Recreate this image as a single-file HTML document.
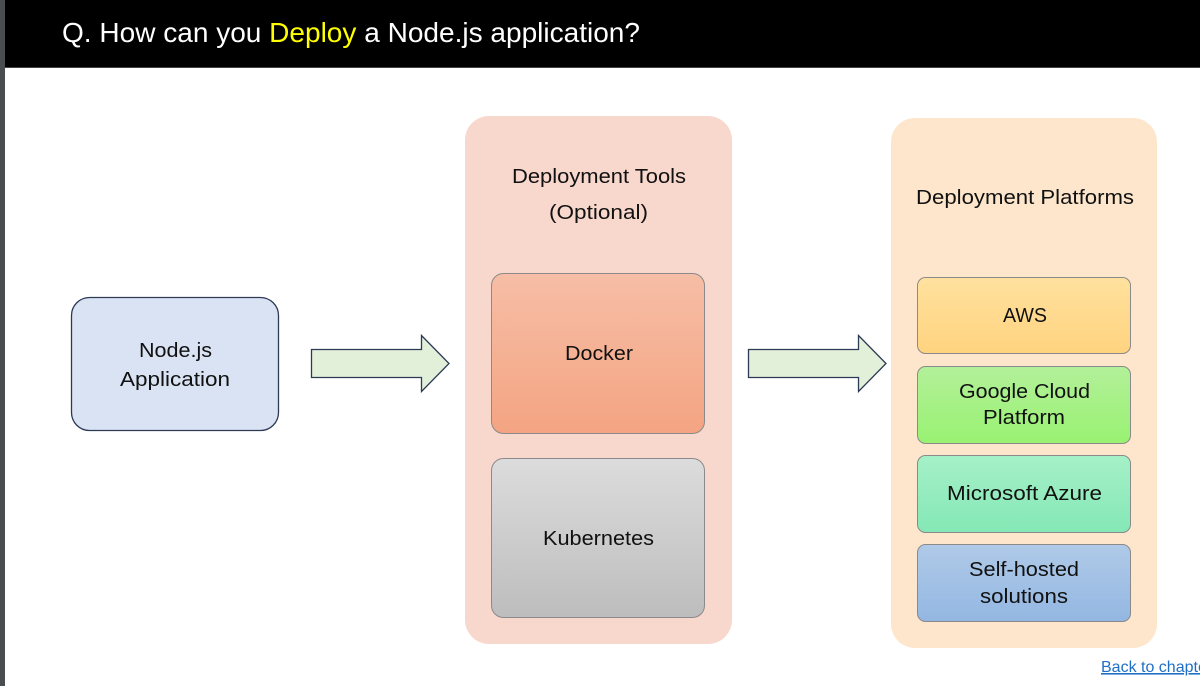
<!DOCTYPE html>
<html><head><meta charset="utf-8"><style>
html,body{margin:0;padding:0;background:#fff;}
body{width:1200px;height:686px;overflow:hidden;position:relative;font-family:"Liberation Sans",sans-serif;}
svg{position:absolute;left:0;top:0;}
</style></head><body>
<svg width="1200" height="686" viewBox="0 0 1200 686" xmlns="http://www.w3.org/2000/svg" font-family="Liberation Sans, sans-serif">
<defs>
<linearGradient id="dk" x1="0" y1="0" x2="0" y2="1"><stop offset="0" stop-color="#f6bea6"/><stop offset="1" stop-color="#f4a482"/></linearGradient>
<linearGradient id="kb" x1="0" y1="0" x2="0" y2="1"><stop offset="0" stop-color="#dcdcdc"/><stop offset="1" stop-color="#bdbdbd"/></linearGradient>
<linearGradient id="aw" x1="0" y1="0" x2="0" y2="1"><stop offset="0" stop-color="#ffe19e"/><stop offset="1" stop-color="#ffd37f"/></linearGradient>
<linearGradient id="gc" x1="0" y1="0" x2="0" y2="1"><stop offset="0" stop-color="#b3f09a"/><stop offset="1" stop-color="#99f272"/></linearGradient>
<linearGradient id="az" x1="0" y1="0" x2="0" y2="1"><stop offset="0" stop-color="#a6f0c8"/><stop offset="1" stop-color="#84e8b5"/></linearGradient>
<linearGradient id="sh" x1="0" y1="0" x2="0" y2="1"><stop offset="0" stop-color="#b0cae8"/><stop offset="1" stop-color="#93b7e2"/></linearGradient>
</defs>
<rect x="0" y="0" width="1200" height="67" fill="#000"/>
<rect x="0" y="67" width="1200" height="1" fill="#444"/>
<rect x="0" y="0" width="5" height="686" fill="#4a4d50"/>
<text x="62" y="42" font-size="28" fill="#fff" textLength="578" lengthAdjust="spacingAndGlyphs">Q. How can you <tspan fill="#ffff00">Deploy</tspan> a Node.js application?</text>

<rect x="71.5" y="297.5" width="207" height="133" rx="18" fill="#dae3f3" stroke="#2c3a55" stroke-width="1.3"/>
<text x="139" y="357" font-size="20" fill="#111" textLength="73" lengthAdjust="spacingAndGlyphs">Node.js</text>
<text x="120" y="386" font-size="20" fill="#111" textLength="110" lengthAdjust="spacingAndGlyphs">Application</text>

<polygon points="311.5,349.5 421.5,349.5 421.5,335.5 449,363.5 421.5,391.5 421.5,377.5 311.5,377.5" fill="#e2efd9" stroke="#2c3a55" stroke-width="1.3"/>
<polygon points="748.5,349.5 858.5,349.5 858.5,335.5 886,363.5 858.5,391.5 858.5,377.5 748.5,377.5" fill="#e2efd9" stroke="#2c3a55" stroke-width="1.3"/>

<rect x="465" y="116" width="267" height="528" rx="24" fill="#f8d7cd"/>
<text x="512" y="183" font-size="20" fill="#111" textLength="174" lengthAdjust="spacingAndGlyphs">Deployment Tools</text>
<text x="549" y="219" font-size="20" fill="#111" textLength="99" lengthAdjust="spacingAndGlyphs">(Optional)</text>
<rect x="491.5" y="273.5" width="213" height="160" rx="12" fill="url(#dk)" stroke="#8a8a8a"/>
<text x="565" y="360" font-size="20" fill="#111" textLength="68" lengthAdjust="spacingAndGlyphs">Docker</text>
<rect x="491.5" y="458.5" width="213" height="159" rx="12" fill="url(#kb)" stroke="#8a8a8a"/>
<text x="543" y="545" font-size="20" fill="#111" textLength="111" lengthAdjust="spacingAndGlyphs">Kubernetes</text>

<rect x="891" y="118" width="266" height="530" rx="24" fill="#fde6cb"/>
<text x="916" y="204" font-size="20" fill="#111" textLength="218" lengthAdjust="spacingAndGlyphs">Deployment Platforms</text>
<rect x="917.5" y="277.5" width="213" height="76" rx="8" fill="url(#aw)" stroke="#8a8a8a"/>
<text x="1003" y="322" font-size="20" fill="#111" textLength="44" lengthAdjust="spacingAndGlyphs">AWS</text>
<rect x="917.5" y="366.5" width="213" height="77" rx="8" fill="url(#gc)" stroke="#8a8a8a"/>
<text x="959" y="398" font-size="20" fill="#111" textLength="131" lengthAdjust="spacingAndGlyphs">Google Cloud</text>
<text x="983" y="424" font-size="20" fill="#111" textLength="82" lengthAdjust="spacingAndGlyphs">Platform</text>
<rect x="917.5" y="455.5" width="213" height="77" rx="8" fill="url(#az)" stroke="#8a8a8a"/>
<text x="947" y="500" font-size="20" fill="#111" textLength="155" lengthAdjust="spacingAndGlyphs">Microsoft Azure</text>
<rect x="917.5" y="544.5" width="213" height="77" rx="8" fill="url(#sh)" stroke="#8a8a8a"/>
<text x="969" y="576" font-size="20" fill="#111" textLength="110" lengthAdjust="spacingAndGlyphs">Self-hosted</text>
<text x="980" y="603" font-size="20" fill="#111" textLength="88" lengthAdjust="spacingAndGlyphs">solutions</text>

<text x="1101" y="672" font-size="16" fill="#1f6fc5" text-decoration="underline">Back to chapter</text>
</svg>
</body></html>
